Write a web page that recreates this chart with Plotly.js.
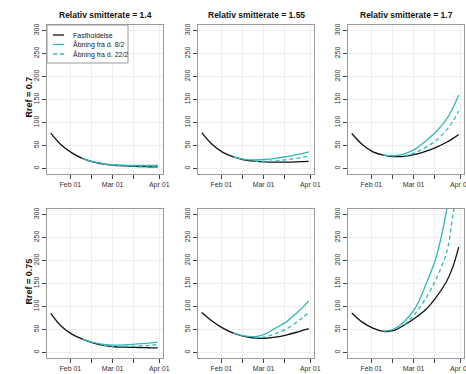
<!DOCTYPE html>
<html>
<head>
<meta charset="utf-8">
<script src="https://cdn.plot.ly/plotly-3.0.1.min.js"></script>
<style>html,body{margin:0;padding:0;background:#fff;}#chart{width:466px;height:374px;}</style>
</head>
<body>
<div id="chart"></div>
<script>
// ---- data ----
const dates = ['2021-01-19','2021-01-26','2021-02-02','2021-02-09','2021-02-16','2021-02-23','2021-03-02','2021-03-09','2021-03-16','2021-03-23','2021-03-27','2021-03-31'];
const seriesNames = ['Fastholdelse', 'Åbning fra d. 8/2', 'Åbning fra d. 22/2'];
const colTitles = ['Relativ smitterate = 1.4', 'Relativ smitterate = 1.55', 'Relativ smitterate = 1.7'];
const rowTitles = ['Rref = 0.7', 'Rref = 0.75'];
const xTickVals = ['2021-02-01','2021-02-15','2021-03-01','2021-03-15','2021-04-01'];
const xTickText = ['Feb 01','','Mar 01','','Apr 01'];
const yTickVals = [0,50,100,150,200,250,300];

// Rref 0.7
const black1  = [77, 51, 34, 22, 14.5, 9.5, 7, 5.5, 4.5, 4, 3.5, 3.5];
const solid1  = [null,null,null, 22, 15, 10.5, 8, 7, 6.5, 6.5, 6.5, 7];
const dashed1 = [null,null,null,null,null, 9.5, 7.3, 6, 5.5, 5.3, 5.3, 5.3];
const black2  = [78, 52, 35, 25, 19, 16, 14.5, 14, 14, 14.5, 15, 15.5];
const solid2  = [null,null,null, 25, 20, 18.5, 19.5, 22, 25.5, 30, 33, 36];
const dashed2 = [null,null,null,null,null, 16, 15.5, 16.5, 19, 22, 24.5, 27];
const black3  = [76, 52, 36, 29, 26, 26.5, 30.5, 37, 46, 57, 65, 74];
const solid3  = [null,null,null, 29, 27.5, 32, 42, 60, 80, 108, 131, 160];
const dashed3 = [null,null,null,null,null, 27, 34, 46, 61, 84, 102, 125];
// Rref 0.75
const black4  = [85, 57, 40, 29, 21, 15.5, 12.5, 11.5, 11, 10.5, 10, 10];
const solid4  = [null,null,null, 29, 22, 17.5, 16, 16.5, 18, 20, 21, 22.5];
const dashed4 = [null,null,null,null,null, 15.5, 13.5, 13.5, 14, 15, 16, 17];
const black5  = [87, 68, 53, 42, 35, 31.5, 31, 33.5, 38, 44, 48, 52];
const solid5  = [null,null,null, 42, 36, 34.5, 40, 53, 66, 86, 98, 112];
const dashed5 = [null,null,null,null,null, 31.5, 34, 41, 51, 66, 76, 87];
const black6  = [86, 66, 53, 46, 48, 60, 75, 93, 120, 155, 185, 229];
const solid6  = [null,null,null, 46, 51, 68, 96, 146, 207, 310, 400, 520];
const dashed6 = [null,null,null,null,null, 60, 84, 117, 160, 218, 296, 380];

const panels = [
  [black1, solid1, dashed1], [black2, solid2, dashed2], [black3, solid3, dashed3],
  [black4, solid4, dashed4], [black5, solid5, dashed5], [black6, solid6, dashed6]
];

// ---- layout helpers ----
const W = 466, H = 374;
const px = x => x / W;
const py = y => 1 - y / H;
const FF = '"Liberation Sans", Arial, Helvetica, sans-serif';
const colLeft = [47, 198, 348];
const pw = 116;
const rowTop = [25, 209];
const ph = 149;
const CYAN = '#33b8b8';

const styles = [
  {color: '#111111', width: 1.3, dash: 'solid'},
  {color: CYAN, width: 1.3, dash: 'solid'},
  {color: CYAN, width: 1.3, dash: '4px,3px'}
];

const traces = [];
const layout = {
  width: W, height: H,
  margin: {l: 0, r: 0, t: 0, b: 0},
  paper_bgcolor: '#fff', plot_bgcolor: '#fff',
  showlegend: false,
  font: {family: FF, size: 7, color: '#333'},
  annotations: [], shapes: []
};

panels.forEach((p, i) => {
  const r = Math.floor(i / 3), c = i % 3;
  const sfx = i === 0 ? '' : String(i + 1);
  p.forEach((vals, k) => {
    traces.push({
      type: 'scatter', mode: 'lines', x: dates, y: vals,
      name: seriesNames[k],
      xaxis: 'x' + sfx, yaxis: 'y' + sfx,
      line: {color: styles[k].color, width: styles[k].width, dash: styles[k].dash, shape: 'spline', smoothing: 1},
      connectgaps: false, hoverinfo: 'skip'
    });
  });
  layout['xaxis' + sfx] = {
    domain: [px(colLeft[c]), px(colLeft[c] + pw)],
    anchor: 'y' + sfx,
    type: 'date', range: ['2021-01-16 12:00', '2021-04-03 12:00'],
    tickmode: 'array', tickvals: xTickVals, ticktext: xTickText,
    ticks: 'outside', ticklen: 4, tickwidth: 1, tickcolor: '#444',
    ticklabeloverflow: 'allow',
    showline: true, linecolor: '#9a9a9a', linewidth: 1, mirror: true,
    showgrid: true, gridcolor: '#ececec', gridwidth: 1, zeroline: false,
    tickfont: {family: FF, size: 7, color: '#333'}, fixedrange: true
  };
  layout['yaxis' + sfx] = {
    domain: [py(rowTop[r] + ph), py(rowTop[r])],
    anchor: 'x' + sfx,
    range: [-12, 312],
    tickmode: 'array', tickvals: yTickVals,
    tickangle: -90,
    ticks: 'outside', ticklen: 4, tickwidth: 1, tickcolor: '#444',
    showline: true, linecolor: '#9a9a9a', linewidth: 1, mirror: true,
    showgrid: true, gridcolor: '#ececec', gridwidth: 1, zeroline: false,
    tickfont: {family: FF, size: 7, color: '#333'}, fixedrange: true
  };
});

// column titles
colTitles.forEach((t, c) => {
  layout.annotations.push({
    xref: 'paper', yref: 'paper', x: px(colLeft[c] + pw / 2), y: py(15),
    xanchor: 'center', yanchor: 'middle', showarrow: false,
    text: '<b>' + t + '</b>', font: {family: FF, size: 8.5, color: '#111'}
  });
});
// row titles
rowTitles.forEach((t, r) => {
  layout.annotations.push({
    xref: 'paper', yref: 'paper', x: px(28), y: py(rowTop[r] + ph / 2 - 2),
    xanchor: 'center', yanchor: 'middle', showarrow: false, textangle: -90,
    text: '<b>' + t + '</b>', font: {family: FF, size: 9, color: '#111'}
  });
});

// legend (drawn manually, inside first panel)
const lg = {x0: 47, x1: 128, y0: 25, y1: 63};
layout.shapes.push({type: 'rect', xref: 'paper', yref: 'paper',
  x0: px(lg.x0), x1: px(lg.x1), y0: py(lg.y1), y1: py(lg.y0),
  line: {color: '#9a9a9a', width: 1}, fillcolor: '#ffffff'});
const legY = [35, 44.5, 54];
seriesNames.forEach((n, k) => {
  layout.shapes.push({type: 'line', xref: 'paper', yref: 'paper',
    x0: px(53), x1: px(64), y0: py(legY[k]), y1: py(legY[k]),
    line: {color: styles[k].color, width: 1.3, dash: styles[k].dash}});
  layout.annotations.push({
    xref: 'paper', yref: 'paper', x: px(71), y: py(legY[k]),
    xanchor: 'left', yanchor: 'middle', showarrow: false,
    text: n, font: {family: FF, size: 7, color: '#222'}
  });
});

Plotly.newPlot('chart', traces, layout, {staticPlot: true, displayModeBar: false});
</script>
</body>
</html>
